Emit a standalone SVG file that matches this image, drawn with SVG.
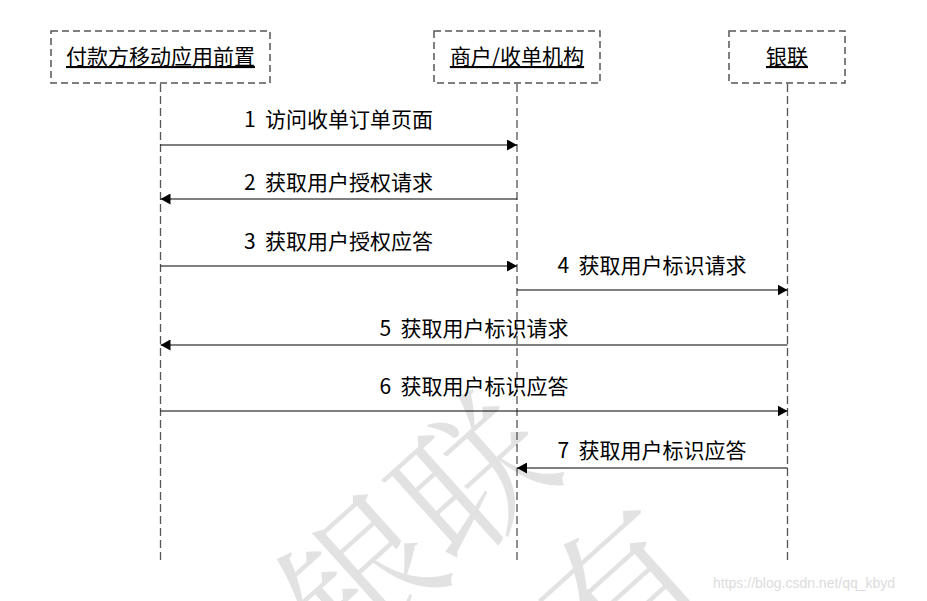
<svg xmlns="http://www.w3.org/2000/svg" width="927" height="601" viewBox="0 0 927 601">
<defs>
<style>
.box{fill:#fff;stroke:#555;stroke-width:1.5;stroke-dasharray:7 4}
.life{stroke:#555;stroke-width:1.3;stroke-dasharray:8 4;fill:none}
.msg{stroke:#000;stroke-width:1.2;fill:none;marker-end:url(#ah)}
.hd{font-family:"Noto Sans CJK SC","Liberation Sans",sans-serif;font-size:21px;fill:#000;text-anchor:middle;text-decoration:underline}
.lb{font-family:"Noto Sans CJK SC","Liberation Sans",sans-serif;font-size:21px;fill:#000;text-anchor:middle}
.wm{font-family:"Noto Serif CJK SC","Noto Sans CJK SC",serif;font-size:150px;fill:#e2e2e2;text-anchor:middle}
.url{font-family:"Liberation Sans",Arial,sans-serif;font-size:14px;fill:#dcdcdc}
</style>
<marker id="ah" viewBox="0 0 10 10" refX="10" refY="5" markerWidth="10" markerHeight="11" markerUnits="userSpaceOnUse" orient="auto" preserveAspectRatio="none">
<path d="M0,0 L10,5 L0,10 Z" fill="#000"/>
</marker>
</defs>
<rect width="927" height="601" fill="#fff"/>
<g id="watermark">
<text class="wm" transform="translate(420,530) rotate(-42)" y="52">银联</text>
<text class="wm" transform="translate(622,592) rotate(-42)" y="52">有</text>
<text class="url" x="713" y="588">https://blog.csdn.net/qq_kbyd</text>
</g>
<g id="lifelines">
<line class="life" x1="160.5" y1="84" x2="160.5" y2="563"/>
<line class="life" x1="517" y1="84" x2="517" y2="563"/>
<line class="life" x1="787.5" y1="84" x2="787.5" y2="563"/>
</g>
<g id="node-payer">
<rect class="box" x="51" y="31" width="219" height="52"/>
<text class="hd" x="160.5" y="64">付款方移动应用前置</text>
</g>
<g id="node-merchant">
<rect class="box" x="434" y="31" width="166" height="52"/>
<text class="hd" x="517" y="64">商户/收单机构</text>
</g>
<g id="node-unionpay">
<rect class="box" x="729" y="31" width="116" height="52"/>
<text class="hd" x="787" y="64">银联</text>
</g>
<g id="connectors">
<line class="msg" x1="160.5" y1="145" x2="517" y2="145"/>
<text class="lb" x="338.5" y="127" xml:space="preserve">1  访问收单订单页面</text>
<line class="msg" x1="517" y1="199" x2="160.5" y2="199"/>
<text class="lb" x="338.5" y="190" xml:space="preserve">2  获取用户授权请求</text>
<line class="msg" x1="160.5" y1="266" x2="517" y2="266"/>
<text class="lb" x="338.5" y="249" xml:space="preserve">3  获取用户授权应答</text>
<line class="msg" x1="517" y1="290" x2="787.5" y2="290"/>
<text class="lb" x="652" y="273" xml:space="preserve">4  获取用户标识请求</text>
<line class="msg" x1="787.5" y1="345" x2="160.5" y2="345"/>
<text class="lb" x="474" y="336" xml:space="preserve">5  获取用户标识请求</text>
<line class="msg" x1="160.5" y1="411" x2="787.5" y2="411"/>
<text class="lb" x="474" y="394" xml:space="preserve">6  获取用户标识应答</text>
<line class="msg" x1="787.5" y1="468" x2="517" y2="468"/>
<text class="lb" x="652" y="458" xml:space="preserve">7  获取用户标识应答</text>
</g>
</svg>
